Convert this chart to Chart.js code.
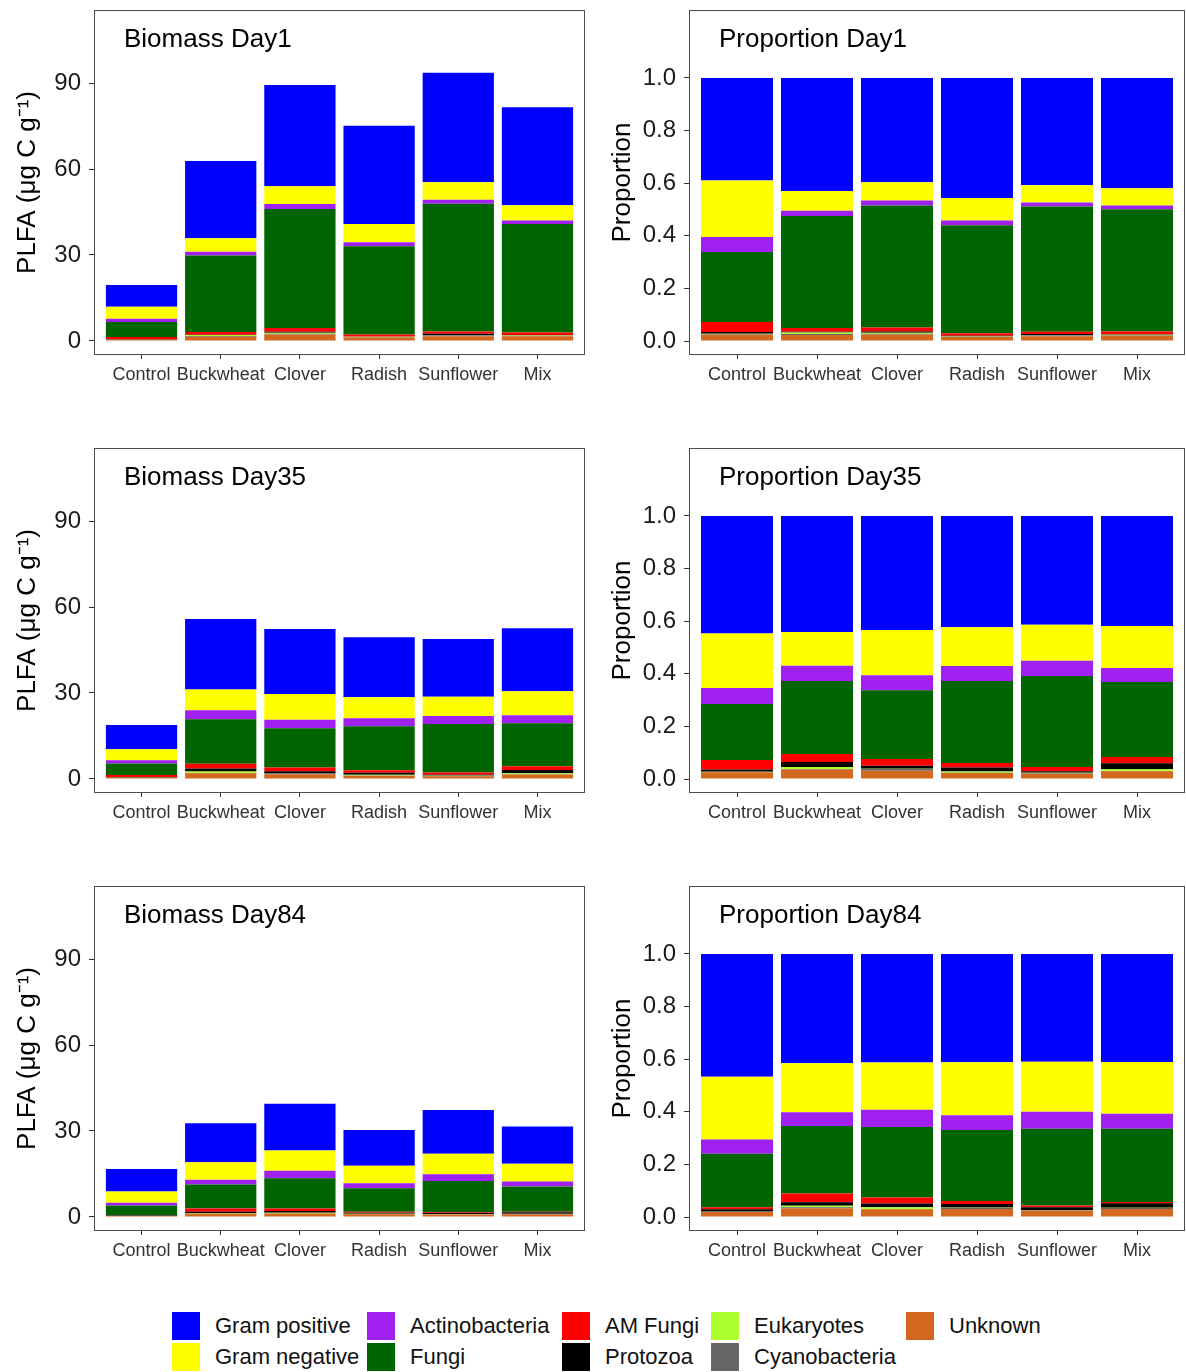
<!DOCTYPE html>
<html>
<head>
<meta charset="utf-8">
<script src="https://cdn.jsdelivr.net/npm/chart.js@4"></script>
<style>
  body { margin: 0; background: #fff; font-family: "Liberation Sans", Arial, sans-serif; }
  #page { position: relative; width: 1186px; height: 1372px; }
  .panel { position: absolute; }
  #legend { position: absolute; left: 172px; top: 1310px; display: flex; }
  .legend-col { display: flex; flex-direction: column; flex-shrink: 0; }
  .legend-item { display: flex; align-items: center; height: 31px; }
  .swatch { width: 28px; height: 28px; margin-right: 15px; flex-shrink: 0; }
  .legend-text { font-size: 22px; color: #111; white-space: nowrap; }
</style>
</head>
<body>
<div id="page">
  <canvas id="bio1" class="panel" width="590" height="400" style="left:0;top:0"></canvas>
  <canvas id="prop1" class="panel" width="591" height="400" style="left:595px;top:0"></canvas>
  <canvas id="bio35" class="panel" width="590" height="400" style="left:0;top:438px"></canvas>
  <canvas id="prop35" class="panel" width="591" height="400" style="left:595px;top:438px"></canvas>
  <canvas id="bio84" class="panel" width="590" height="400" style="left:0;top:876px"></canvas>
  <canvas id="prop84" class="panel" width="591" height="400" style="left:595px;top:876px"></canvas>
  <div id="legend"></div>
</div>
<script>
// groups on the x axis
const treatments = ["Control", "Buckwheat", "Clover", "Radish", "Sunflower", "Mix"];
const days = ["Day1", "Day35", "Day84"];

// PLFA biomass (ug C / g), rows = Day1, Day35, Day84
const gramPositive = [
  [7.6, 27.0, 35.4, 34.3, 38.2, 34.2],
  [8.4, 24.6, 22.7, 20.9, 20.2, 22.0],
  [7.8, 13.6, 16.3, 12.5, 15.3, 13.0]
];
const gramNegative = [
  [4.2, 4.7, 6.2, 6.4, 6.1, 5.3],
  [3.9, 7.2, 9.0, 7.3, 6.7, 8.4],
  [4.0, 6.1, 7.1, 6.1, 7.1, 6.2]
];
const actinobacteria = [
  [1.1, 1.3, 1.7, 1.35, 1.4, 1.2],
  [1.15, 3.2, 3.0, 2.8, 2.8, 2.8],
  [0.9, 1.7, 2.6, 1.7, 2.4, 1.8]
];
const fungi = [
  [5.2, 26.7, 41.5, 30.8, 44.6, 37.9],
  [4.0, 15.5, 13.7, 15.4, 16.9, 15.0],
  [3.4, 8.4, 10.6, 8.2, 10.9, 8.8]
];
const amFungi = [
  [0.74, 0.94, 1.34, 0.75, 0.75, 0.82],
  [0.68, 1.67, 1.31, 0.84, 0.78, 1.26],
  [0.13, 1.08, 0.87, 0.33, 0.26, 0.16]
];
const protozoa = [
  [0.12, 0.13, 0.36, 0.08, 0.47, 0.16],
  [0.15, 1.06, 0.63, 0.74, 0.29, 1.21],
  [0.13, 0.43, 0.59, 0.42, 0.37, 0.54]
];
const eukaryotes = [
  [0.04, 0.38, 0.36, 0.15, 0.09, 0.16],
  [0.02, 0.45, 0.05, 0.25, 0.10, 0.32],
  [0.01, 0.20, 0.24, 0.03, 0.04, 0.03]
];
const cyanobacteria = [
  [0.04, 0.25, 0.27, 0.15, 0.28, 0.16],
  [0.02, 0.11, 0.31, 0.05, 0.10, 0.05],
  [0.03, 0.13, 0.04, 0.12, 0.07, 0.10]
];
const unknown = [
  [0.47, 1.44, 2.23, 1.13, 1.68, 1.63],
  [0.49, 2.01, 1.67, 1.14, 0.98, 1.58],
  [0.32, 1.08, 1.18, 0.94, 0.90, 0.98]
];

const biomassTicks = [0, 30, 60, 90];
const proportionTicks = [0, 0.2, 0.4, 0.6, 0.8, 1.0];

// stacking order, bottom first
const groups = [
  { label: "Unknown", color: "#D2691E", values: unknown },
  { label: "Cyanobacteria", color: "#666666", values: cyanobacteria },
  { label: "Eukaryotes", color: "#ADFF2F", values: eukaryotes },
  { label: "Protozoa", color: "#000000", values: protozoa },
  { label: "AM Fungi", color: "#FF0000", values: amFungi },
  { label: "Fungi", color: "#006400", values: fungi },
  { label: "Actinobacteria", color: "#A020F0", values: actinobacteria },
  { label: "Gram negative", color: "#FFFF00", values: gramNegative },
  { label: "Gram positive", color: "#0000FF", values: gramPositive }
];

const FONT = "'Liberation Sans', Arial, sans-serif";

const panelPlugin = {
  id: "panel",
  afterDraw(chart, args, opts) {
    const { ctx, chartArea } = chart;
    ctx.save();
    ctx.strokeStyle = "#4d4d4d";
    ctx.lineWidth = 1;
    ctx.strokeRect(chartArea.left + 0.5, chartArea.top + 0.5,
      chartArea.right - chartArea.left - 1, chartArea.bottom - chartArea.top - 1);
    ctx.fillStyle = "#000";
    ctx.font = "26px " + FONT;
    ctx.textBaseline = "middle";
    ctx.textAlign = "left";
    ctx.fillText(opts.text, chartArea.left + 30, chartArea.top + 30);
    ctx.restore();
  }
};

function makeChart(id, dayIndex, proportion) {
  const totals = treatments.map((t, i) =>
    groups.reduce((s, g) => s + g.values[dayIndex][i], 0));

  const datasets = groups.map((g) => ({
    label: g.label,
    backgroundColor: g.color,
    borderWidth: 0,
    barPercentage: 0.9,
    categoryPercentage: 1.0,
    data: treatments.map((t, i) => ({
      x: i + 1,
      y: proportion ? g.values[dayIndex][i] / totals[i] : g.values[dayIndex][i]
    }))
  }));

  const yTicks = proportion ? proportionTicks : biomassTicks;

  return new Chart(document.getElementById(id), {
    type: "bar",
    data: { datasets: datasets },
    plugins: [panelPlugin],
    options: {
      responsive: false,
      animation: false,
      layout: { padding: { top: 10, right: proportion ? 1 : 5, left: 0, bottom: 0 } },
      scales: {
        x: {
          type: "linear",
          stacked: true,
          min: 0.4,
          max: 6.6,
          offset: false,
          afterBuildTicks: (scale) => {
            scale.ticks = treatments.map((t, i) => ({ value: i + 1 }));
          },
          afterFit: (scale) => {
            scale.height = 45;
            scale.paddingLeft = 0;
            scale.paddingRight = 0;
          },
          grid: { display: true, offset: false, drawOnChartArea: false, drawTicks: true, tickLength: 4, color: "#333" },
          border: { display: false },
          ticks: {
            autoSkip: false,
            maxRotation: 0,
            padding: 5,
            color: "#333",
            font: { family: FONT, size: 18 },
            callback: (value) => treatments[value - 1]
          }
        },
        y: {
          stacked: true,
          min: proportion ? -0.053 : -4.9,
          max: proportion ? 1.258 : 115.5,
          afterBuildTicks: (scale) => {
            scale.ticks = yTicks.map((v) => ({ value: v }));
          },
          afterFit: (scale) => {
            scale.width = 94;
            scale.paddingTop = 0;
            scale.paddingBottom = 0;
          },
          grid: { display: true, drawOnChartArea: false, drawTicks: true, tickLength: 5, color: "#333" },
          border: { display: false },
          ticks: {
            padding: 8,
            color: "#1a1a1a",
            font: { family: FONT, size: 24 },
            callback: (value) => proportion ? value.toFixed(1) : value
          },
          title: {
            display: true,
            text: proportion ? "Proportion" : "PLFA (\u03bcg C g\u207b\u00b9)",
            color: "#000",
            font: { family: FONT, size: 26 },
            padding: { top: 12, bottom: 0 }
          }
        }
      },
      plugins: {
        legend: { display: false },
        tooltip: { enabled: false },
        panel: { text: (proportion ? "Proportion " : "Biomass ") + days[dayIndex] }
      }
    }
  });
}

makeChart("bio1", 0, false);
makeChart("prop1", 0, true);
makeChart("bio35", 1, false);
makeChart("prop35", 1, true);
makeChart("bio84", 2, false);
makeChart("prop84", 2, true);

// legend, filled column by column like the original
function createLegend() {
  const order = ["Gram positive", "Gram negative", "Actinobacteria", "Fungi", "AM Fungi",
    "Protozoa", "Eukaryotes", "Cyanobacteria", "Unknown"];
  const colWidths = [195, 195, 149, 195, 160];
  const container = document.getElementById("legend");
  for (let c = 0; c < 5; c++) {
    const col = document.createElement("div");
    col.className = "legend-col";
    col.style.width = colWidths[c] + "px";
    order.slice(c * 2, c * 2 + 2).forEach((name) => {
      const g = groups.find((d) => d.label === name);
      const item = document.createElement("div");
      item.className = "legend-item";
      item.innerHTML = `<div class="swatch" style="background:${g.color}"></div><span class="legend-text">${g.label}</span>`;
      col.appendChild(item);
    });
    container.appendChild(col);
  }
}
createLegend();
</script>
</body>
</html>
